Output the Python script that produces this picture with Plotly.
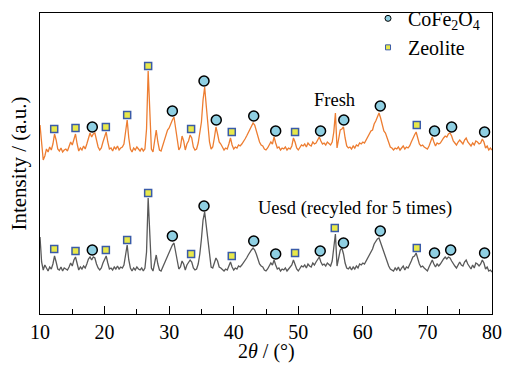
import numpy as np
import plotly.graph_objects as go

# 2theta sampling grid (0.25 deg steps)
two_theta = np.arange(10.0, 80.0001, 0.25)

fresh = [
    189, 170, 154, 158,  165, 162, 167, 164,  170, 180, 174, 165,  163, 166, 162, 164,
    165, 163, 167, 172,  169, 175, 180, 170,  163, 166, 164, 168,  165, 170, 176, 181,
    177, 180, 181, 173,  167, 164, 166, 172,  178, 182, 172, 165,  166, 163, 167, 165,
    168, 164, 166, 167,  170, 180, 194, 176,  165, 162, 166, 164,  167, 165, 163, 166,
    163, 165, 185, 243,  200, 165, 162, 176,  184, 172, 164, 163,  168, 173, 178, 184,
    186, 191, 194, 197,  188, 175, 164, 167,  178, 173, 164, 170,  173, 179, 176, 167,
    164, 165, 171, 180,  192, 214, 227, 208,  186, 172, 165, 167,  176, 187, 180, 172,
    170, 167, 164, 166,  165, 170, 176, 169,  165, 167, 166, 169,  168, 170, 172, 175,
    178, 181, 185, 188,  191, 189, 183, 177,  172, 169, 168, 165,  164, 166, 170, 172,
    170, 177, 171, 166,  167, 164, 166, 165,  167, 164, 166, 165,  168, 176, 172, 166,
    164, 167, 169, 168,  170, 167, 171, 169,  168, 172, 170, 171,  175, 177, 173, 170,
    171, 169, 172, 170,  169, 172, 182, 201,  166, 175, 184, 185,  187, 176, 168, 166,
    167, 165, 168, 166,  169, 168, 171, 170,  172, 171, 174, 178,  181, 183, 184, 190,
    193, 197, 201, 196,  188, 183, 181, 176,  170, 167, 166, 164,  166, 165, 167, 164,
    166, 168, 165, 167,  166, 168, 172, 176,  179, 182, 175, 170,  168, 169, 167, 166,
    165, 168, 172, 177,  172, 168, 171, 170,  171, 174, 176, 178,  177, 180, 181, 178,
    173, 171, 169, 172,  174, 172, 170, 174,  176, 172, 170, 168,  171, 169, 173, 172,
    170, 171, 175, 172,  166, 168, 164, 166,  164,
]

used = [
    77, 52, 44, 49,  46, 43, 47, 45,  50, 58, 52, 45,  44, 47, 43, 46,
    45, 44, 47, 51,  48, 54, 57, 49,  44, 47, 45, 48,  46, 50, 55, 57,
    54, 57, 56, 50,  46, 44, 46, 51,  55, 58, 51, 45,  46, 44, 47, 45,
    48, 45, 47, 46,  49, 58, 69, 54,  46, 43, 46, 44,  47, 45, 44, 46,
    43, 46, 62, 116,  78, 46, 43, 52,  59, 50, 44, 43,  47, 51, 55, 59,
    62, 66, 69, 71,  63, 54, 45, 47,  53, 50, 44, 49,  51, 54, 52, 46,
    44, 45, 50, 60,  75, 94, 102, 88,  70, 55, 47, 46,  50, 56, 53, 47,
    46, 44, 43, 45,  44, 48, 52, 47,  44, 46, 45, 48,  47, 49, 51, 54,
    56, 59, 62, 64,  66, 64, 60, 55,  50, 48, 47, 44,  43, 45, 48, 51,
    49, 54, 49, 45,  46, 43, 45, 44,  46, 43, 45, 47,  49, 54, 50, 45,
    43, 46, 48, 47,  49, 46, 50, 48,  47, 51, 49, 52,  55, 57, 52, 49,
    50, 48, 51, 49,  48, 53, 66, 80,  48, 58, 64, 66,  60, 51, 46, 45,
    47, 44, 47, 45,  48, 46, 50, 49,  51, 50, 53, 57,  60, 63, 65, 70,
    73, 75, 76, 71,  66, 62, 58, 53,  48, 45, 44, 43,  46, 44, 47, 43,
    46, 48, 44, 47,  46, 49, 53, 57,  58, 61, 55, 50,  47, 48, 46, 44,
    43, 47, 50, 54,  50, 47, 50, 48,  50, 53, 55, 57,  55, 57, 56, 53,
    50, 48, 46, 50,  52, 49, 48, 52,  54, 50, 47, 45,  49, 46, 51, 50,
    48, 50, 54, 51,  45, 47, 43, 44,  42,
]

# Phase markers (peak positions and marker heights)
fresh_cofe_x = [18.1, 30.5, 35.4, 37.3, 43.1, 46.5, 53.45, 57.05, 62.7, 71.1, 73.75, 78.85]
fresh_cofe_y = [187, 203, 233, 194, 198, 183, 183, 194, 208, 183, 187, 182]
fresh_zeo_x = [12.2, 15.5, 20.2, 23.5, 26.75, 33.4, 39.7, 49.5, 68.35]
fresh_zeo_y = [185, 186, 187, 199, 248, 185, 182, 182, 189]

used_cofe_x = [18.1, 30.5, 35.4, 43.1, 46.5, 53.4, 57.0, 62.7, 71.1, 73.6, 78.85]
used_cofe_y = [64, 78, 108, 73, 60, 63, 71, 83, 61, 64, 61]
used_zeo_x = [12.2, 15.5, 20.2, 23.5, 26.75, 33.4, 39.7, 49.5, 55.65, 68.35]
used_zeo_y = [65, 63, 64, 74, 121, 60, 58, 61, 86, 66]

FONT = "Liberation Serif, serif"
ORANGE = "#ED7D31"
GREY = "#595959"
CIRC_FILL = "#8FCFE2"
ZEO_FILL = "#E8E84A"
ZEO_LINE = "#3A5BA8"

fig = go.Figure()
fig.add_trace(go.Scatter(x=two_theta, y=fresh, mode="lines",
                         line=dict(color=ORANGE, width=1.3), showlegend=False))
fig.add_trace(go.Scatter(x=two_theta, y=used, mode="lines",
                         line=dict(color=GREY, width=1.3), showlegend=False))

circ_marker = dict(symbol="circle", size=10, color=CIRC_FILL, line=dict(color="black", width=1.5))
zeo_marker = dict(symbol="square", size=7, color=ZEO_FILL, line=dict(color=ZEO_LINE, width=1.5))

for cx, cy in [(fresh_cofe_x, fresh_cofe_y), (used_cofe_x, used_cofe_y)]:
    fig.add_trace(go.Scatter(x=cx, y=cy, mode="markers", marker=circ_marker, showlegend=False))
for zx, zy in [(fresh_zeo_x, fresh_zeo_y), (used_zeo_x, used_zeo_y)]:
    fig.add_trace(go.Scatter(x=zx, y=zy, mode="markers", marker=zeo_marker, showlegend=False))

# legend entries (small symbols)
fig.add_trace(go.Scatter(x=[None], y=[None], mode="markers", name="CoFe<sub>2</sub>O<sub>4</sub>",
                         marker=dict(symbol="circle", size=6, color=CIRC_FILL,
                                     line=dict(color="black", width=1))))
fig.add_trace(go.Scatter(x=[None], y=[None], mode="markers", name="Zeolite",
                         marker=dict(symbol="square", size=5, color=ZEO_FILL,
                                     line=dict(color=ZEO_LINE, width=1))))

fig.add_annotation(x=55.6, y=214, text="Fresh", showarrow=False,
                   font=dict(family=FONT, size=18.5, color="black"))
fig.add_annotation(x=43.4, y=106, text="Uesd (recyled for 5 times)", showarrow=False,
                   xanchor="left", font=dict(family=FONT, size=18.5, color="black"))
# x-axis title
fig.add_annotation(x=0.5, y=-0.125, xref="paper", yref="paper", text="2<i>θ</i> / (°)",
                   showarrow=False, xanchor="center", yanchor="middle",
                   font=dict(family=FONT, size=20, color="black"))

fig.update_layout(
    template="none",
    width=506, height=365,
    margin=dict(l=40, r=14, t=13, b=51, autoexpand=False),
    paper_bgcolor="white", plot_bgcolor="white",
    font=dict(family=FONT, size=20, color="black"),
    legend=dict(x=0.7257, y=1.047, xanchor="left", yanchor="top",
                bgcolor="rgba(0,0,0,0)", font=dict(family=FONT, size=20),
                itemwidth=30, tracegroupgap=0),
    xaxis=dict(range=[10, 80], showgrid=False, zeroline=False,
               showline=True, linecolor="black", linewidth=1.3, mirror=True,
               ticks="inside", ticklen=8, tickwidth=1.2, tickcolor="black",
               dtick=10, tick0=10,
               minor=dict(ticks="inside", ticklen=5, tickwidth=1.2, dtick=5, tickcolor="black",
                          showgrid=False),
               tickfont=dict(family=FONT, size=20, color="black")),
    yaxis=dict(range=[0, 301], showgrid=False, zeroline=False,
               showline=True, linecolor="black", linewidth=1.3, mirror=True,
               ticks="", showticklabels=False,
               title=dict(text="Intensity / (a.u.)", font=dict(family=FONT, size=21, color="black"),
                          standoff=6)),
)

fig.write_html("out.html")
